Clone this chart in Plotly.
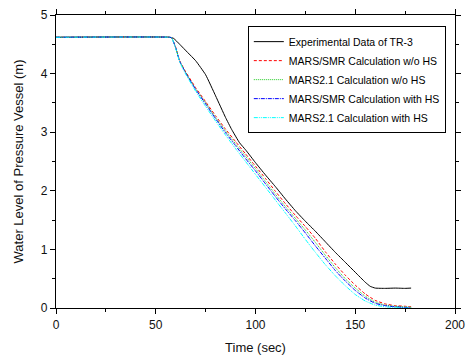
import plotly.graph_objects as go

# Time points (s)
t_exp = [0, 57, 59, 62, 66, 70, 75, 80, 85, 88, 92, 95, 100, 105, 110, 115, 120, 125,
         130, 135, 140, 145, 150, 155, 157.5, 160, 165, 170, 175, 178]
y_exp = [4.62, 4.62, 4.60, 4.50, 4.36, 4.22, 3.98, 3.62, 3.25, 3.05, 2.82, 2.70, 2.48,
         2.27, 2.07, 1.86, 1.66, 1.48, 1.31, 1.13, 0.95, 0.78, 0.61, 0.44, 0.37, 0.34,
         0.335, 0.34, 0.335, 0.34]

t_sim = [0, 57, 58, 60, 62, 65, 70, 75, 80, 85, 90, 95, 100, 105, 110, 115, 120, 125,
         130, 135, 140, 145, 150, 155, 160, 165, 170, 175, 178]
y_smr_wo = [4.62, 4.62, 4.61, 4.45, 4.22, 4.03, 3.76, 3.52, 3.28, 3.05, 2.84, 2.63, 2.42,
            2.21, 1.99, 1.78, 1.58, 1.39, 1.19, 0.96, 0.75, 0.56, 0.39, 0.24, 0.13, 0.07,
            0.04, 0.03, 0.02]
y_m21_wo = [4.62, 4.62, 4.61, 4.44, 4.21, 4.02, 3.74, 3.50, 3.25, 3.02, 2.80, 2.59, 2.38,
            2.16, 1.94, 1.73, 1.53, 1.33, 1.12, 0.90, 0.69, 0.50, 0.34, 0.20, 0.10, 0.05,
            0.03, 0.02, 0.01]
y_smr_w = [4.62, 4.62, 4.61, 4.44, 4.21, 4.01, 3.73, 3.48, 3.23, 2.99, 2.77, 2.55, 2.34,
           2.12, 1.90, 1.69, 1.49, 1.28, 1.06, 0.85, 0.64, 0.46, 0.30, 0.17, 0.08, 0.04,
           0.02, 0.01, 0.01]
y_m21_w = [4.62, 4.62, 4.61, 4.43, 4.20, 3.99, 3.70, 3.44, 3.19, 2.95, 2.72, 2.50, 2.28,
           2.06, 1.84, 1.62, 1.40, 1.17, 0.95, 0.74, 0.55, 0.38, 0.23, 0.12, 0.05, 0.02,
           0.01, 0.0, 0.0]

names = ["Experimental Data of TR-3", "MARS/SMR Calculation w/o HS",
         "MARS2.1 Calculation w/o HS", "MARS/SMR Calculation with HS",
         "MARS2.1 Calculation with HS"]

fig = go.Figure()
fig.add_trace(go.Scatter(x=t_exp, y=y_exp, mode="lines", name=names[0],
                         line=dict(color="black", width=1, shape="spline", smoothing=0.4)))
fig.add_trace(go.Scatter(x=t_sim, y=y_smr_wo, mode="lines", name=names[1],
                         line=dict(color="red", width=1, dash="3px,2px", shape="spline", smoothing=0.4)))
fig.add_trace(go.Scatter(x=t_sim, y=y_m21_wo, mode="lines", name=names[2],
                         line=dict(color="#22cc22", width=1, dash="1px,1px", shape="spline", smoothing=0.4)))
fig.add_trace(go.Scatter(x=t_sim, y=y_smr_w, mode="lines", name=names[3],
                         line=dict(color="blue", width=1, dash="4px,1px,1px,1px", shape="spline", smoothing=0.4)))
fig.add_trace(go.Scatter(x=t_sim, y=y_m21_w, mode="lines", name=names[4],
                         line=dict(color="cyan", width=1, dash="4px,1px,1px,1px,1px,1px", shape="spline", smoothing=0.4)))

axis_common = dict(showline=True, linecolor="black", linewidth=1.2, mirror="allticks",
                   ticks="outside", ticklen=5, tickwidth=1, tickcolor="black",
                   showgrid=False, zeroline=False, automargin=False,
                   tickfont=dict(family="Liberation Sans, Arial", size=12, color="#111"))

fig.update_xaxes(range=[0, 200], tick0=0, dtick=50,
                 minor=dict(ticks="outside", ticklen=3, dtick=25, tickcolor="black"),
                 title=dict(text="Time (sec)", standoff=12,
                            font=dict(family="Liberation Sans, Arial", size=13, color="#111")),
                 **axis_common)
fig.update_yaxes(range=[0, 5], tick0=0, dtick=1,
                 minor=dict(ticks="outside", ticklen=3, dtick=0.5, tickcolor="black"),
                 title=dict(text="Water Level of Pressure Vessel (m)", standoff=14,
                            font=dict(family="Liberation Sans, Arial", size=13, color="#111")),
                 **axis_common)

fig.update_layout(
    width=467, height=359,
    margin=dict(l=56, r=12, t=15, b=51, autoexpand=False),
    paper_bgcolor="white", plot_bgcolor="white",
    showlegend=True,
    legend=dict(x=0.977, y=0.962, xanchor="right", yanchor="top",
                bgcolor="white", bordercolor="black", borderwidth=1,
                font=dict(family="Liberation Sans, Arial", size=10.5, color="black"),
                tracegroupgap=0, itemwidth=30),
)

fig.write_html("out.html")
